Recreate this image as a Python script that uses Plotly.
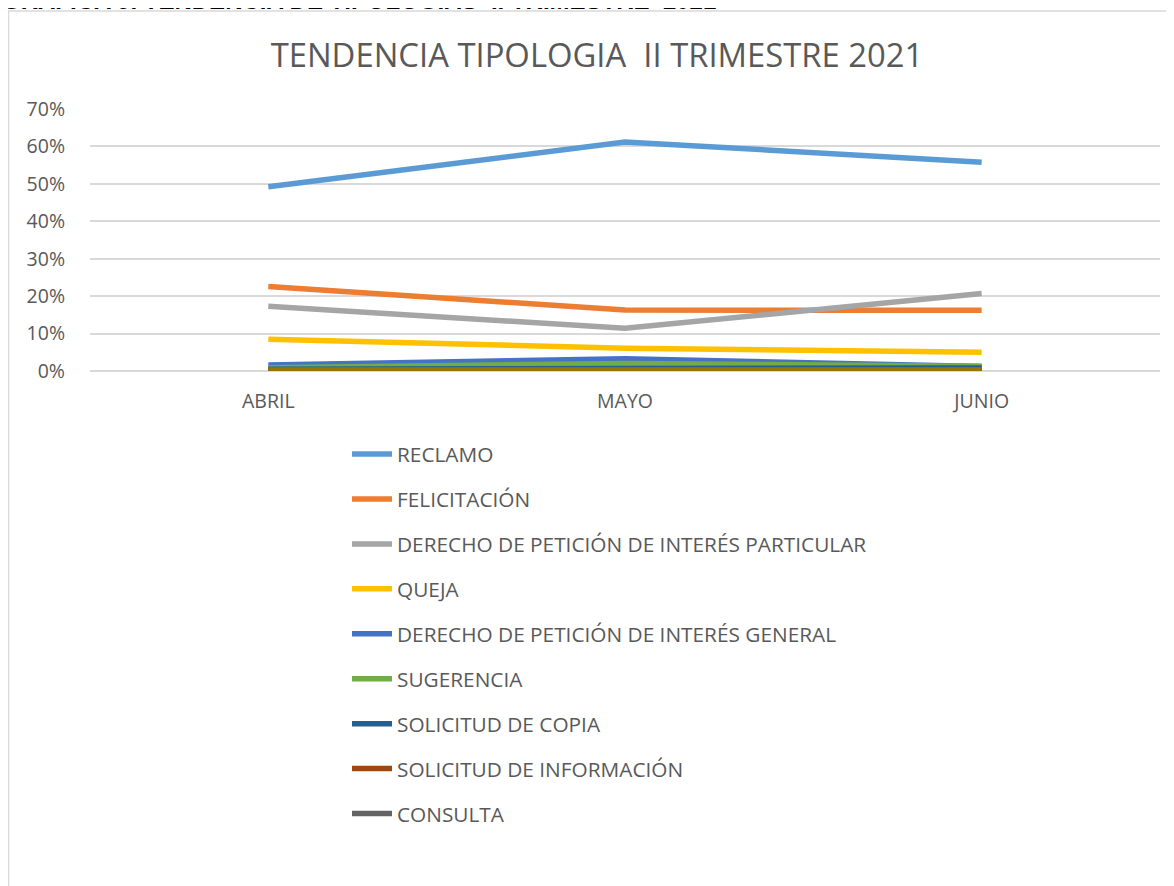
import plotly.graph_objects as go

# Data
meses = ["ABRIL", "MAYO", "JUNIO"]
reclamo = [0.492, 0.612, 0.558]
felicitacion = [0.226, 0.163, 0.162]
dp_particular = [0.173, 0.114, 0.207]
queja = [0.085, 0.061, 0.050]
dp_general = [0.016, 0.033, 0.012]
sugerencia = [0.009, 0.020, 0.013]
solicitud_copia = [0.005, 0.005, 0.008]
solicitud_info = [0.002, 0.002, 0.002]
consulta = [0.003, 0.003, 0.003]
otro = [0.003, 0.003, 0.003]

series = [
    ("RECLAMO", reclamo, "#5B9BD5"),
    ("FELICITACIÓN", felicitacion, "#ED7D31"),
    ("DERECHO DE PETICIÓN DE INTERÉS PARTICULAR", dp_particular, "#A5A5A5"),
    ("QUEJA", queja, "#FFC000"),
    ("DERECHO DE PETICIÓN DE INTERÉS GENERAL", dp_general, "#4472C4"),
    ("SUGERENCIA", sugerencia, "#70AD47"),
    ("SOLICITUD DE COPIA", solicitud_copia, "#255E91"),
    ("SOLICITUD DE INFORMACIÓN", solicitud_info, "#9E480E"),
    ("CONSULTA", consulta, "#636363"),
]

TEXT = "#595959"
GRID = "#D9D9D9"
FONT = "Open Sans, Liberation Sans, sans-serif"

fig = go.Figure()
for i, (name, vals, color) in enumerate(series):
    fig.add_trace(go.Scatter(
        x=meses, y=vals, mode="lines", name=name,
        legendgroup=f"g{i}",
        line=dict(color=color, width=5.5),
    ))

# extra series drawn last (not in visible legend)
fig.add_trace(go.Scatter(
    x=meses, y=otro, mode="lines", name="OTRO", showlegend=False,
    line=dict(color="#997300", width=5.5),
))

# page has an 8px body margin; targets below are in screen pixels
OFF = 8
W, H = 1174, 886
L, T = 90 - OFF, 109 - OFF
R = W - (1160 - OFF)
B = H - (371 - OFF)
pw = W - L - R
ph = H - T - B

def px_x(p):
    return (p - OFF - L) / pw

def px_y(p):
    return (H - B - (p - OFF)) / ph

# outer chart border
fig.add_shape(type="rect", xref="paper", yref="paper",
              x0=px_x(8.5), x1=px_x(1200), y0=px_y(11), y1=px_y(920),
              line=dict(color=GRID, width=1.5), fillcolor="rgba(0,0,0,0)",
              layer="below")

# heading above the chart, cut off by the top edge as in the source
fig.add_annotation(
    text="<b>GRAFICA 9. TENDENCIA DE TIPOLOGIAS  II TRIMESTRE  2021</b>",
    xref="paper", yref="paper", x=px_x(0), y=px_y(16),
    xanchor="left", yanchor="bottom", showarrow=False,
    font=dict(family="Liberation Sans, Arial, sans-serif", size=24, color="#000000"),
)

fig.update_layout(
    width=W, height=H,
    margin=dict(l=L, r=R, t=T, b=B),
    paper_bgcolor="white",
    plot_bgcolor="white",
    font=dict(family=FONT, color=TEXT, size=20),
    title=dict(
        text="TENDENCIA TIPOLOGIA \u00a0II TRIMESTRE 2021",
        x=(597 - OFF) / W, xanchor="center", y=1 - (56 - OFF) / H, yanchor="middle",
        font=dict(family=FONT, size=32.8, color=TEXT),
    ),
    showlegend=True,
    legend=dict(
        x=px_x(347), y=px_y(434), xanchor="left", yanchor="top",
        orientation="v", tracegroupgap=14.9,
        font=dict(family=FONT, size=20.8, color=TEXT),
        itemwidth=40, bgcolor="rgba(0,0,0,0)",
    ),
    xaxis=dict(
        range=[-0.5, 2.5], showgrid=False, zeroline=False,
        showline=False, ticks="", ticklabelstandoff=16,
        tickfont=dict(size=19.5, color=TEXT),
    ),
    yaxis=dict(
        range=[0, 0.7], dtick=0.1, tickformat=".0%",
        showgrid=True, gridcolor=GRID, gridwidth=1.5,
        zeroline=True, zerolinecolor=GRID, zerolinewidth=1.5,
        showline=False, ticks="", ticklabelstandoff=24,
        tickfont=dict(size=19.5, color=TEXT),
    ),
)

fig.write_html("out.html")
